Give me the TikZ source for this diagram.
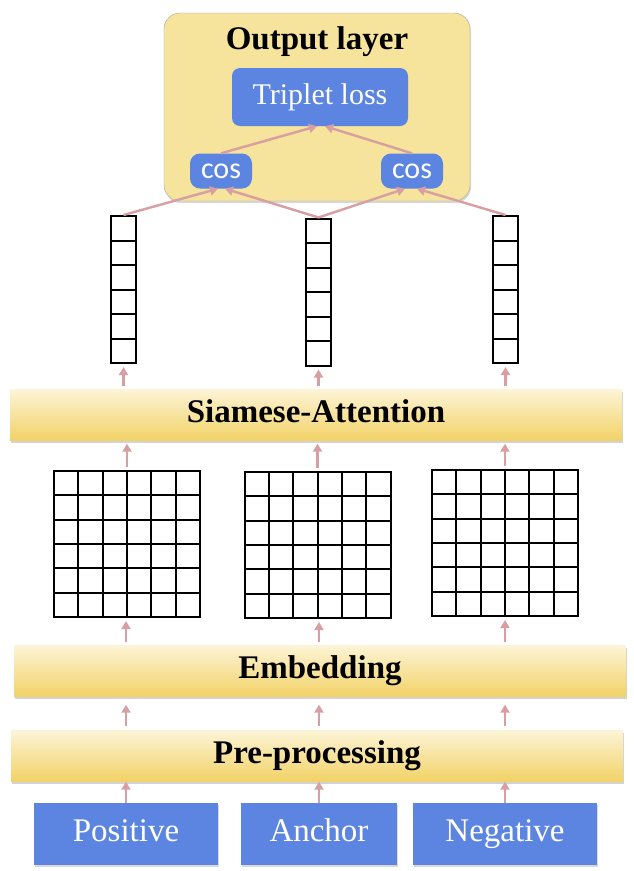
\documentclass[tikz,border=0pt]{standalone}
\usepackage{fontspec}
\setmainfont{Liberation Serif}
\newfontfamily\cosfont{Carlito}
\usepackage{tikz}
\usetikzlibrary{calc,arrows.meta,shadows}

\definecolor{boxblue}{HTML}{5C85E1}
\definecolor{outyellow}{HTML}{F6E39C}
\definecolor{bartop}{HTML}{FCF4D6}
\definecolor{barbot}{HTML}{F2D266}
\definecolor{arrowpink}{HTML}{D89EA1}

\def\cellrows#1{\foreach \k in {1,...,5}{\draw[line width=2pt] ($(path picture bounding box.north west)!\k/6!(path picture bounding box.south west)$) -- ($(path picture bounding box.north east)!\k/6!(path picture bounding box.south east)$);}}
\def\cellcols#1{\foreach \k in {1,...,5}{\draw[line width=2pt] ($(path picture bounding box.north west)!\k/6!(path picture bounding box.north east)$) -- ($(path picture bounding box.south west)!\k/6!(path picture bounding box.south east)$);}}

\tikzset{
  layerbar/.style={minimum width=612pt, minimum height=51pt, inner sep=0pt, top color=bartop, bottom color=barbot,
    text height=22pt, text depth=7pt,
    drop shadow={opacity=0.35, shadow xshift=1pt, shadow yshift=-2pt}, font=\fontsize{33}{36}\selectfont\bfseries},
  inbox/.style={fill=boxblue, text=white, minimum height=62pt, inner sep=0pt, text height=22pt, text depth=7pt,
    drop shadow={opacity=0.3, shadow xshift=1pt, shadow yshift=-2pt}, font=\fontsize{33}{36}\selectfont},
  cosbox/.style={fill=boxblue, text=white, rounded corners=10pt, minimum width=62pt, minimum height=35pt, inner sep=0pt,
    font=\cosfont\fontsize{30}{32}\selectfont},
  fmap/.style={draw, line width=2pt, minimum width=146pt, minimum height=146pt, inner sep=0pt,
    path picture={\cellrows{} \cellcols{}}},
  vec/.style={draw, line width=2pt, minimum width=25pt, minimum height=147pt, inner sep=0pt,
    path picture={\cellrows{}}},
  arr/.style={draw=arrowpink, line width=2.4pt, -{Triangle[width=9pt,length=8pt]}, shorten <=3pt, shorten >=3pt}
}

\begin{document}
\begin{tikzpicture}[x=1pt, y=-1pt]
			%%%%% START %%%%%
			\useasboundingbox (0,0) rectangle (633,871);
			
			% output layer
			\node[fill=outyellow, draw=black!35, rounded corners=16pt, minimum width=306pt, minimum height=188pt,
			  drop shadow={opacity=0.3, shadow xshift=1pt, shadow yshift=-2pt}] (outbox) at (317,107) {};
			\node[font=\fontsize{33}{36}\selectfont\bfseries] (outlabel) at (317,42) {Output layer};
			\node[fill=boxblue, text=white, rounded corners=8pt, minimum width=176pt, minimum height=58pt, inner sep=0pt,
			  font=\fontsize{30}{32}\selectfont] (loss) at (320,97) {Triplet loss};
			\node[cosbox] (cosl) at (221,171) {cos};
			\node[cosbox] (cosr) at (412,171) {cos};
			
			% vectors
			\node[vec] (vl) at (123.5,289.5) {};
			\node[vec] (vm) at (318.5,292) {};
			\node[vec] (vr) at (505.5,289.5) {};
			
			\node[layerbar] (siam) at (316,415) {Siamese-Attention};
			
			% feature maps
			\node[fmap] (gl) at (127,544) {};
			\node[fmap] (gm) at (317.5,545) {};
			\node[fmap] (gr) at (505,543) {};
			
			\node[layerbar] (emb) at (320,671) {Embedding};
			\node[layerbar] (pre) at (317,756) {Pre-processing};
			
			% inputs
			\node[inbox, minimum width=184pt] (pos) at (126,834) {Positive};
			\node[inbox, minimum width=156pt] (anc) at (319,834) {Anchor};
			\node[inbox, minimum width=184pt] (neg) at (505,834) {Negative};
			
			% arrows
			\foreach \a/\b in {pos/pre, anc/pre, neg/pre}
			  \draw[arr, shorten <=0pt, shorten >=0pt] (\a.north) -- (\a.north |- \b.south);
			\foreach \a in {pos, anc, neg}
			  \draw[arr, shorten <=4pt, shorten >=8pt] (\a.north |- pre.north) -- (\a.north |- emb.south);
			\foreach \a/\b in {gl/pos, gm/anc, gr/neg}
			  \draw[arr] (\b.north |- emb.north) -- (\b.north |- \a.south);
			\foreach \a in {gl, gm, gr}
			  \draw[arr] (\a.north) -- (\a.north |- siam.south);
			\foreach \a in {vl, vm, vr}
			  \draw[arr] (\a.south |- siam.north) -- (\a.south);
			
			\draw[arr, shorten <=0pt, shorten >=0pt] (vl.north) -- ($(cosl.south)+(-3,0)$);
			\draw[arr, shorten <=0pt, shorten >=0pt] (vm.north) -- ($(cosl.south)+(4,0)$);
			\draw[arr, shorten <=0pt, shorten >=0pt] (vm.north) -- ($(cosr.south)+(-7,0)$);
			\draw[arr, shorten <=0pt, shorten >=0pt] (vr.north) -- ($(cosr.south)+(5,0)$);
			\draw[arr, shorten <=0pt, shorten >=0pt] (cosl.north) -- ($(loss.south)+(-3,0)$);
			\draw[arr, shorten <=0pt, shorten >=0pt] (cosr.north) -- ($(loss.south)+(5,0)$);
			
			%%%%% END %%%%%
\end{tikzpicture}
\end{document}
